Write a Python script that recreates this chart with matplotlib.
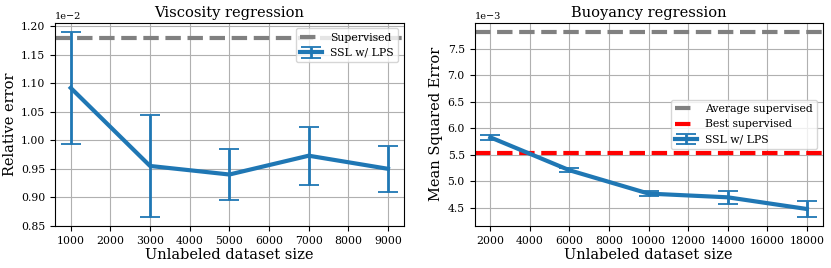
import matplotlib
matplotlib.use("Agg")
import matplotlib.pyplot as plt

### DATA ###
visc_sizes = [1000, 3000, 5000, 7000, 9000]
visc_mean = [1.092e-2, 0.955e-2, 0.940e-2, 0.973e-2, 0.950e-2]
visc_err = [0.098e-2, 0.089e-2, 0.045e-2, 0.051e-2, 0.040e-2]
visc_supervised = 1.180e-2

buoy_sizes = [2000, 6000, 10000, 14000, 18000]
buoy_mean = [5.83e-3, 5.21e-3, 4.77e-3, 4.70e-3, 4.48e-3]
buoy_err = [0.05e-3, 0.035e-3, 0.053e-3, 0.125e-3, 0.145e-3]
buoy_avg_supervised = 7.814e-3
buoy_best_supervised = 5.53e-3
##############

plt.rcParams["font.family"] = "DejaVu Serif"
plt.rcParams["axes.formatter.offset_threshold"] = 4

fig = plt.figure(figsize=(8.31, 2.68), dpi=100)
ax1 = fig.add_axes([0.066, 0.157, 0.420, 0.758])
ax2 = fig.add_axes([0.571, 0.157, 0.419, 0.758])

LABEL_SIZE = 10.5
TICK_SIZE = 7.8

# viscosity
ax1.axhline(visc_supervised, color="gray", linestyle="--", linewidth=3, label="Supervised")
ax1.errorbar(visc_sizes, visc_mean, yerr=visc_err, color="#1f77b4", linewidth=3,
             capsize=7, capthick=1.3, elinewidth=2, label="SSL w/ LPS")
ax1.set_title("Viscosity regression", fontsize=LABEL_SIZE, pad=4)
ax1.set_xlabel("Unlabeled dataset size", fontsize=LABEL_SIZE, labelpad=2)
ax1.set_ylabel("Relative error", fontsize=LABEL_SIZE, labelpad=3)
ax1.set_xticks(range(1000, 9001, 1000))
ax1.ticklabel_format(style="sci", axis="y", scilimits=(0, 0))
ax1.grid(True)
ax1.legend(loc="upper right", fontsize=7.8)

# buoyancy
ax2.axhline(buoy_avg_supervised, color="gray", linestyle="--", linewidth=3,
            label="Average supervised")
ax2.axhline(buoy_best_supervised, color="red", linestyle="--", linewidth=3,
            label="Best supervised")
ax2.errorbar(buoy_sizes, buoy_mean, yerr=buoy_err, color="#1f77b4", linewidth=3,
             capsize=7, capthick=1.3, elinewidth=2, label="SSL w/ LPS")
ax2.set_title("Buoyancy regression", fontsize=LABEL_SIZE, pad=4)
ax2.set_xlabel("Unlabeled dataset size", fontsize=LABEL_SIZE, labelpad=2)
ax2.set_ylabel("Mean Squared Error", fontsize=LABEL_SIZE, labelpad=3)
ax2.set_xticks(range(2000, 18001, 2000))
ax2.ticklabel_format(style="sci", axis="y", scilimits=(0, 0))
ax2.grid(True)
ax2.legend(loc="center right", fontsize=7.8)

for ax in (ax1, ax2):
    ax.tick_params(labelsize=TICK_SIZE)
    ax.yaxis.get_offset_text().set_fontsize(7)

fig.savefig("out.png", dpi=100)
